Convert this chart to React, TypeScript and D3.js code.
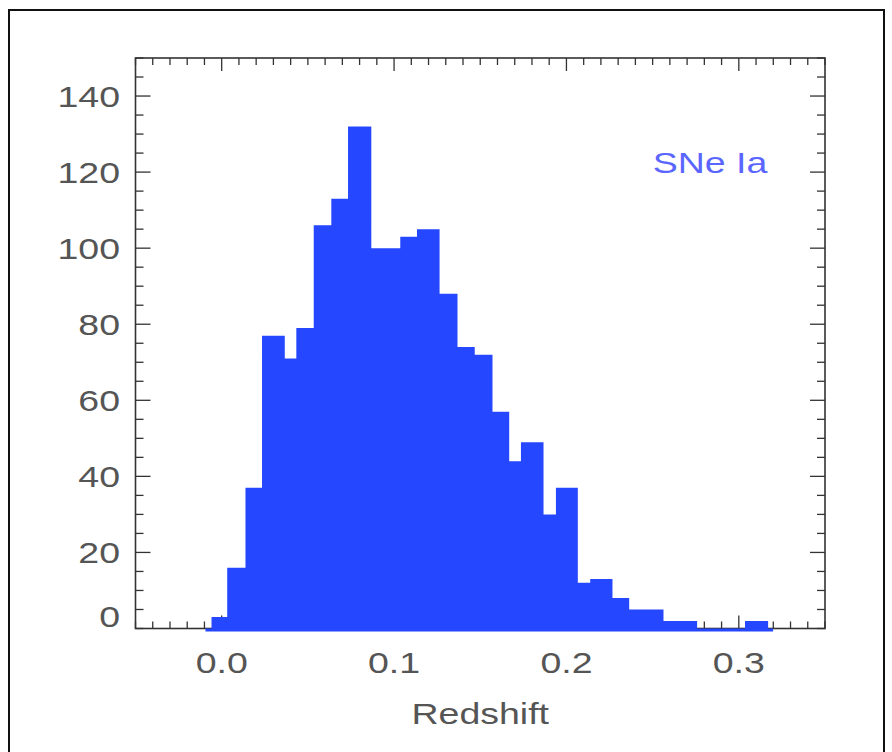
import React from "react";
import * as d3 from "d3";

// Histogram bin edges (redshift) and counts per bin
const binEdges = [
  -0.0094, -0.0059, 0.0032, 0.0138, 0.0234, 0.0366, 0.0433, 0.0534, 0.0636,
  0.0733, 0.0868, 0.1036, 0.1133, 0.1264, 0.1368, 0.1468, 0.1571, 0.1668,
  0.1736, 0.1867, 0.1939, 0.2066, 0.2138, 0.2267, 0.2364, 0.2563, 0.2758,
  0.3036, 0.317, 0.3199,
];
const binCounts = [
  0, 3, 16, 37, 77, 71, 79, 106, 113, 132, 100, 103, 105, 88, 74, 72, 57, 44,
  49, 30, 37, 12, 13, 8, 5, 2, 0, 2, 0,
];

const xMajorTicks = [0.0, 0.1, 0.2, 0.3];
const yMajorTicks = [0, 20, 40, 60, 80, 100, 120, 140];
const xLabel = "Redshift";
const seriesLabel = "SNe Ia";

const W = 892;
const H = 752;
const plot = { left: 135.5, right: 825, top: 58, bottom: 628.5 };

const FONT = "'Liberation Sans', Arial, sans-serif";
const FONT_SIZE = 30;
const STRETCH = 1.25; // wide, Helvetica-like lettering
const AXIS = "#333";
const TEXT = "#555";
const BAR = "#2547ff";

function Label(props: {
  x: number;
  y: number;
  anchor: "start" | "middle" | "end";
  fill?: string;
  children: React.ReactNode;
}) {
  return (
    <text
      transform={`translate(${props.x},${props.y}) scale(${STRETCH},1)`}
      textAnchor={props.anchor}
      dominantBaseline="central"
      fontFamily={FONT}
      fontSize={FONT_SIZE}
      fill={props.fill ?? TEXT}
    >
      {props.children}
    </text>
  );
}

export default function App() {
  const x = d3.scaleLinear().domain([-0.05, 0.35]).range([plot.left, plot.right]);
  const y = d3.scaleLinear().domain([0, 150]).range([plot.bottom, plot.top]);

  const xMinor = d3.range(-50, 351, 10).map((v) => v / 1000);
  const yMinor = d3.range(0, 151, 5);
  const isXMajor = (v: number) => xMajorTicks.some((t) => Math.abs(t - v) < 1e-6);
  const isYMajor = (v: number) => v % 20 === 0 && v > 0 && v < 150;

  // Step outline: each bin holds its count until the next edge
  const pts: [number, number][] = binEdges.map((e, i) => [
    e,
    binCounts[Math.min(i, binCounts.length - 1)],
  ]);
  const area = d3
    .area<[number, number]>()
    .x((d) => x(d[0]))
    .y0(y(0) + 3)
    .y1((d) => y(d[1]))
    .curve(d3.curveStepAfter);

  const majLen = 13;
  const minLen = 7;

  return (
    <svg
      width={W}
      height={H}
      style={{ position: "absolute", left: 0, top: 0, background: "#fff" }}
    >
      <rect x={0} y={0} width={W} height={H} fill="#fff" />
      <rect x={9} y={10} width={875} height={780} fill="none" stroke="#111" strokeWidth={2} />

      {/* frame */}
      <rect
        x={plot.left}
        y={plot.top}
        width={plot.right - plot.left}
        height={plot.bottom - plot.top}
        fill="none"
        stroke={AXIS}
        strokeWidth={1.6}
      />
      {/* x ticks, bottom and top */}
      {xMinor.map((v, i) => {
        const L = isXMajor(v) ? majLen : minLen;
        const px = x(v);
        return (
          <g key={"xt" + i} stroke={AXIS} strokeWidth={1.3}>
            <line x1={px} x2={px} y1={plot.bottom} y2={plot.bottom - L} />
            <line x1={px} x2={px} y1={plot.top} y2={plot.top + L} />
          </g>
        );
      })}
      {/* y ticks, left and right */}
      {yMinor.map((v, i) => {
        const L = isYMajor(v) ? majLen + 2 : minLen + 1;
        const py = y(v);
        return (
          <g key={"yt" + i} stroke={AXIS} strokeWidth={1.3}>
            <line x1={plot.left} x2={plot.left + L} y1={py} y2={py} />
            <line x1={plot.right} x2={plot.right - L} y1={py} y2={py} />
          </g>
        );
      })}

      {/* histogram */}
      <path d={area(pts) ?? ""} fill={BAR} />

      {/* tick labels */}
      {yMajorTicks.map((v) => (
        <Label key={"yl" + v} x={120} y={Math.min(y(v), y(0) - 12)} anchor="end">
          {v}
        </Label>
      ))}
      {xMajorTicks.map((v) => (
        <Label key={"xl" + v} x={x(v)} y={662} anchor="middle">
          {v.toFixed(1)}
        </Label>
      ))}
      <Label x={(plot.left + plot.right) / 2} y={713} anchor="middle">
        {xLabel}
      </Label>
      <Label x={710} y={162} anchor="middle" fill="#5a66ff">
        {seriesLabel}
      </Label>
    </svg>
  );
}
